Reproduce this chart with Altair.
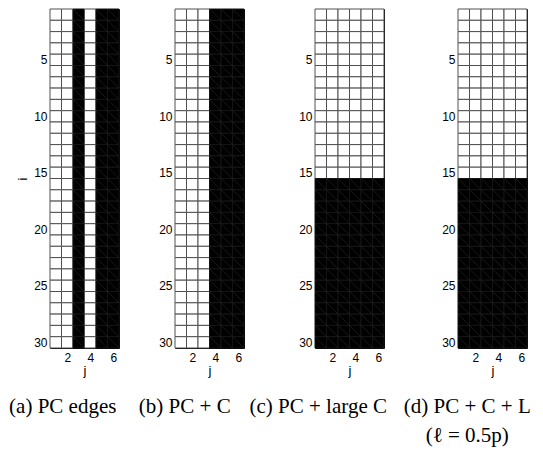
import altair as alt
import pandas as pd

rows = list(range(1, 31))
cols = list(range(1, 7))

# 1 = black cell; a cell is black if its column flag or its row flag is 1
a_cols = [0, 0, 1, 0, 1, 1]
b_cols = [0, 0, 0, 1, 1, 1]
c_cols = [0, 0, 0, 0, 0, 0]
d_cols = [0, 0, 0, 0, 0, 0]

a_rows = [0, 0, 0, 0, 0, 0, 0, 0, 0, 0, 0, 0, 0, 0, 0,
          0, 0, 0, 0, 0, 0, 0, 0, 0, 0, 0, 0, 0, 0, 0]
b_rows = [0, 0, 0, 0, 0, 0, 0, 0, 0, 0, 0, 0, 0, 0, 0,
          0, 0, 0, 0, 0, 0, 0, 0, 0, 0, 0, 0, 0, 0, 0]
c_rows = [0, 0, 0, 0, 0, 0, 0, 0, 0, 0, 0, 0, 0, 0, 0,
          1, 1, 1, 1, 1, 1, 1, 1, 1, 1, 1, 1, 1, 1, 1]
d_rows = [0, 0, 0, 0, 0, 0, 0, 0, 0, 0, 0, 0, 0, 0, 0,
          1, 1, 1, 1, 1, 1, 1, 1, 1, 1, 1, 1, 1, 1, 1]

captions = [
    ["(a) PC edges"],
    ["(b) PC + C"],
    ["(c) PC + large C"],
    ["(d) PC + C + L", "(ℓ = 0.5p)"],
]
x_ticks = [2, 4, 6]
y_ticks = [5, 10, 15, 20, 25, 30]

panel_flags = [(a_cols, a_rows), (b_cols, b_rows), (c_cols, c_rows), (d_cols, d_rows)]
y_extents = [16, 50, 63, 65]
title_dx = [-5, 0, 0, 7]


def make_df(col_flags, row_flags):
    recs = []
    for i in rows:
        for j in cols:
            v = max(col_flags[j - 1], row_flags[i - 1])
            recs.append({"i": i, "j": j, "x0": j - 0.5, "x1": j + 0.5,
                         "y0": i - 0.5, "y1": i + 0.5, "v": v})
    return pd.DataFrame(recs)


xs = alt.Scale(domain=[0.5, 6.5], nice=False, zero=False)
ys = alt.Scale(domain=[0.5, 30.5], nice=False, zero=False, reverse=True)

charts = []
for k, (cf, rf) in enumerate(panel_flags):
    df = make_df(cf, rf)
    base = alt.Chart(df)
    if k == 0:
        yaxis = alt.Axis(values=y_ticks, title="i", minExtent=y_extents[k],
                         maxExtent=y_extents[k], titlePadding=5, titleColor="black")
    else:
        yaxis = alt.Axis(values=y_ticks, title=None, minExtent=y_extents[k],
                         maxExtent=y_extents[k])
    xaxis = alt.Axis(values=x_ticks, title="j", labelPadding=4, titlePadding=1,
                     titleColor="black")
    rect = base.mark_rect(strokeWidth=1).encode(
        x=alt.X("x0:Q", scale=xs, axis=xaxis),
        x2="x1:Q",
        y=alt.Y("y0:Q", scale=ys, axis=yaxis),
        y2="y1:Q",
        fill=alt.Fill("v:N", scale=alt.Scale(domain=[0, 1], range=["white", "black"]), legend=None),
        stroke=alt.Stroke("v:N", scale=alt.Scale(domain=[0, 1], range=["#505050", "#141414"]), legend=None),
    )
    diag = base.transform_filter("datum.v == 1").mark_rule(color="#242424", strokeWidth=0.7).encode(
        x=alt.X("x0:Q", scale=xs, axis=xaxis),
        x2="x1:Q",
        y=alt.Y("y0:Q", scale=ys, axis=yaxis),
        y2="y1:Q",
    )
    ch = alt.layer(rect, diag).properties(
        width=69, height=339,
        title=alt.TitleParams(text=captions[k], orient="bottom", anchor="middle", frame="bounds",
                              font="Liberation Serif", fontSize=21, fontWeight="normal",
                              color="black", lineHeight=29, offset=19, dx=title_dx[k]),
    )
    charts.append(ch)

chart = alt.hconcat(*charts, spacing=4).properties(
    padding={"left": 0, "top": 0, "right": 0, "bottom": 0}
).configure_view(stroke="black", strokeWidth=1).configure_axis(
    grid=False, ticks=False, domain=False, labelFont="Liberation Sans", labelFontSize=12,
    labelColor="black", titleFont="Liberation Sans", titleFontSize=13, titleFontWeight="normal",
    titleColor="black", labelPadding=3,
)

chart.save("out.html", embed_options={"renderer": "svg", "actions": False})
